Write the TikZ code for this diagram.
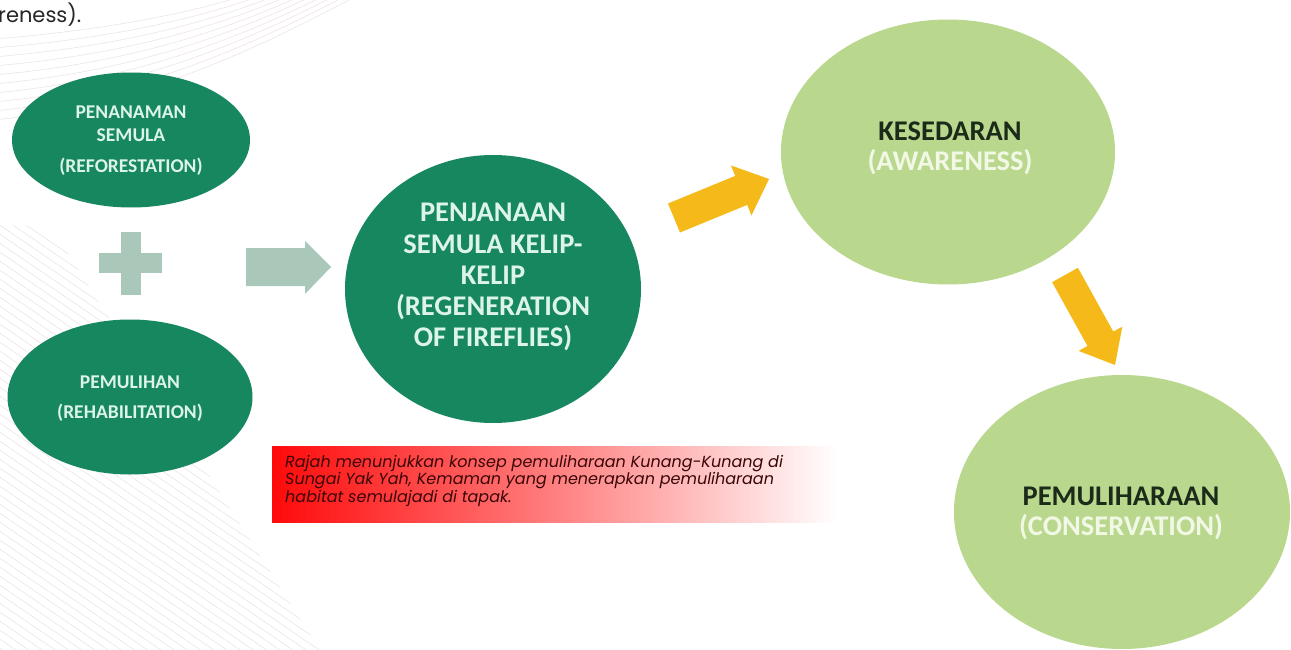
\documentclass[tikz,border=0pt]{standalone}
\usepackage{fontspec}
\setmainfont{Carlito}
\newfontfamily\popfont{Poppins}
\usetikzlibrary{shapes.geometric}
\definecolor{dkgreen}{HTML}{16875F}
\definecolor{dktext}{HTML}{DDF4E8}
\definecolor{ltgreen}{HTML}{B9D88D}
\definecolor{ltdark}{HTML}{1C2A1A}
\definecolor{ltwhite}{HTML}{F2F8E6}
\definecolor{grgreen}{HTML}{A9C8BA}
\definecolor{ambr}{HTML}{F5B919}
\definecolor{capred}{HTML}{FF0A0A}
\definecolor{captext}{HTML}{3A0608}
\definecolor{bgline}{HTML}{EFE4E6}
\tikzset{
  blob/.style={ellipse, inner sep=0pt, align=center, font=\bfseries},
  dkblob/.style={blob, fill=dkgreen, text=dktext},
  ltblob/.style={blob, fill=ltgreen},
  smalltxt/.style={text=dktext, font=\bfseries\fontsize{19.5}{23}\selectfont, align=center, inner sep=0pt},
  bigtxt/.style={font=\bfseries\fontsize{28.5}{31}\selectfont, inner sep=0pt},
  grshape/.style={fill=grgreen, draw=none},
  ybarrow/.style={fill=ambr, draw=none},
  bgl/.style={draw=bgline, line width=0.6pt}
}
\begin{document}
\begin{tikzpicture}[x=1pt,y=-1pt]
\useasboundingbox (0,0) rectangle (1291,650);
\fill[white] (0,0) rectangle (1291,650);
% background decoration
\begin{scope}
\clip (0,0) rectangle (400,120);
\foreach \k in {0,...,9} {
  \draw[bgl] (-20,40+9*\k) .. controls (120,30+9*\k) and (250,5+6*\k) .. (330+10*\k,-40);
}
\end{scope}
\begin{scope}
\clip (0,225) -- (50,225) -- (320,650) -- (0,650) -- cycle;
\foreach \k in {0,...,70} {
  \draw[bgl] (-40,180+9*\k) -- (400,480+9*\k);
}
\end{scope}
% top cut text
\node[anchor=west, font=\popfont\fontsize{21}{24}\selectfont, text=black!85, inner sep=0pt] (prev) at (-2,15) {reness).};
% left ellipses
\node[dkblob, minimum width=238pt, minimum height=135pt] (reforest) at (131,140) {};
\node[smalltxt] (reforestT) at (131,112) {PENANAMAN};
\node[smalltxt] (reforestT2) at (131,135) {SEMULA};
\node[smalltxt] (reforestE) at (131,167) {(REFORESTATION)};
\node[dkblob, minimum width=245pt, minimum height=155pt] (rehab) at (130,397) {};
\node[smalltxt] (rehabT) at (130,382) {PEMULIHAN};
\node[smalltxt] (rehabE) at (130,413) {(REHABILITATION)};
% plus
\coordinate (plus) at (131,263);
\fill[grshape] (121,232) rectangle (141,295);
\fill[grshape] (99,253) rectangle (162,273);
% gray arrow
\coordinate (ga) at (288,267);
\fill[grshape] (246,248) -- (305,248) -- (305,241) -- (331,267) -- (305,294) -- (305,286) -- (246,286) -- cycle;
% big circle
\node[dkblob, minimum width=296pt, minimum height=268pt] (regen) at (493,289) {};
\node[bigtxt, text=dktext] (regen1) at (493,212.5) {PENJANAAN};
\node[bigtxt, text=dktext] (regen2) at (493,244) {SEMULA KELIP-};
\node[bigtxt, text=dktext] (regen3) at (493,275.5) {KELIP};
\node[bigtxt, text=dktext] (regen4) at (493,307) {(REGENERATION};
\node[bigtxt, text=dktext] (regen5) at (493,338.5) {OF FIREFLIES)};
% awareness
\node[ltblob, minimum width=334pt, minimum height=265pt] (aware) at (948,152) {};
\node[bigtxt, text=ltdark] (awareT) at (950,131) {KESEDARAN};
\node[bigtxt, text=ltwhite] (awareE) at (950,162) {(AWARENESS)};
% conservation
\node[ltblob, minimum width=336pt, minimum height=274pt] (conserv) at (1122,512) {};
\node[bigtxt, text=ltdark] (conservT) at (1121,496) {PEMULIHARAAN};
\node[bigtxt, text=ltwhite] (conservE) at (1121,527) {(CONSERVATION)};
% yellow arrows
\fill[ybarrow] (680,232.5) -- (747.2,204.9) -- (751.5,215.4) -- (769,179) -- (730.9,165.4) -- (735.2,175.9) -- (668,203.5) -- cycle;
\fill[ybarrow] (1052.1,282.2) -- (1087.5,346.0) -- (1078.6,350.9) -- (1115,365) -- (1122.3,326.7) -- (1113.3,331.6) -- (1077.9,267.8) -- cycle;
% caption box
\shade[left color=capred, right color=white, middle color=red!50] (272,446) rectangle (838,522);
\node[anchor=north west, inner sep=0pt, text=captext, align=left,
  font=\popfont\itshape\fontsize{16}{12.3}\selectfont] (caption) at (285,455)
  {Rajah menunjukkan konsep pemuliharaan Kunang-Kunang di\\Sungai Yak Yah, Kemaman yang menerapkan pemuliharaan\\habitat semulajadi di tapak.};
\end{tikzpicture}
\end{document}
